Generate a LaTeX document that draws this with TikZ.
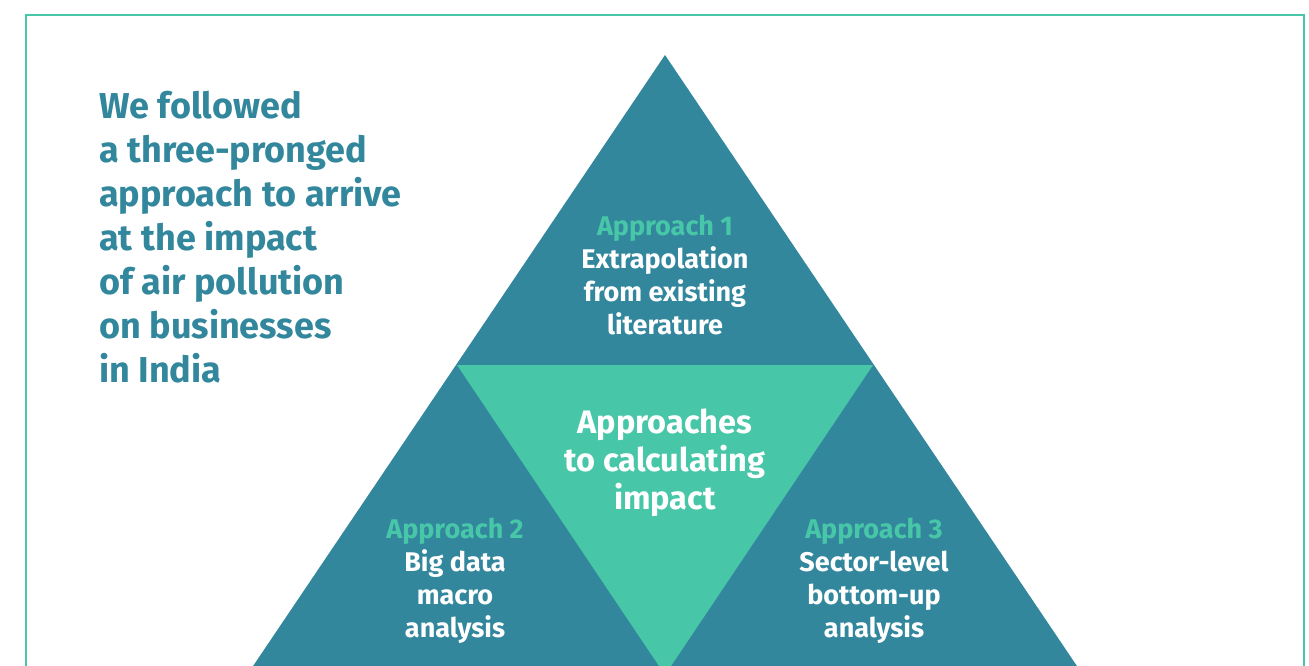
\documentclass[tikz,border=0pt]{standalone}
\usepackage{fontspec}
\setmainfont{Fira Sans}
\definecolor{prongteal}{HTML}{32879D}
\definecolor{prongmint}{HTML}{47C7A8}
\tikzset{
  prong/.style={fill=prongteal, draw=none},
  hub/.style={fill=prongmint, draw=none},
  prongtext/.style={align=center, text=white, inner sep=0pt,
    font=\fontsize{27}{33}\selectfont\bfseries},
  hubtext/.style={align=center, text=white, inner sep=0pt,
    font=\fontsize{32.5}{38}\selectfont\bfseries},
}
\newcommand{\approachlabel}[1]{\textcolor{prongmint}{#1}}
\begin{document}
\begin{tikzpicture}[x=1pt, y=-1pt]
	\useasboundingbox (0, 0) rectangle (1309, 666);
	\clip (0, 0) rectangle (1309, 666);
	% frame
	\draw[prongmint, line width=2.5pt] (26, 15) rectangle (1304, 720);
	% outer triangle and the inverted middle one
	\fill[prong] (665, 55) -- (247, 675) -- (1083, 675) -- cycle;
	\fill[hub] (457, 365) -- (873, 365) -- (665, 675) -- cycle;
	% heading
	\node[anchor=north west, align=left, inner sep=0pt, text=prongteal,
	      font=\fontsize{36}{44}\selectfont\bfseries] (heading) at (99, 91)
	      {We followed\\a three-pronged\\approach to arrive\\at the impact\\of air pollution\\on businesses\\in India};
	% texts of the three approaches
	\node[prongtext] (approach1) at (665, 275)
	      {\approachlabel{Approach 1}\\Extrapolation\\from existing\\literature};
	\node[prongtext] (approach2) at (455, 581)
	      {\approachlabel{Approach 2}\\Big data\\macro\\analysis};
	\node[prongtext] (approach3) at (874, 581)
	      {\approachlabel{Approach 3}\\Sector-level\\bottom-up\\analysis};
	\node[hubtext] (centre) at (665, 463)
	      {Approaches\\to calculating\\impact};
\end{tikzpicture}
\end{document}
